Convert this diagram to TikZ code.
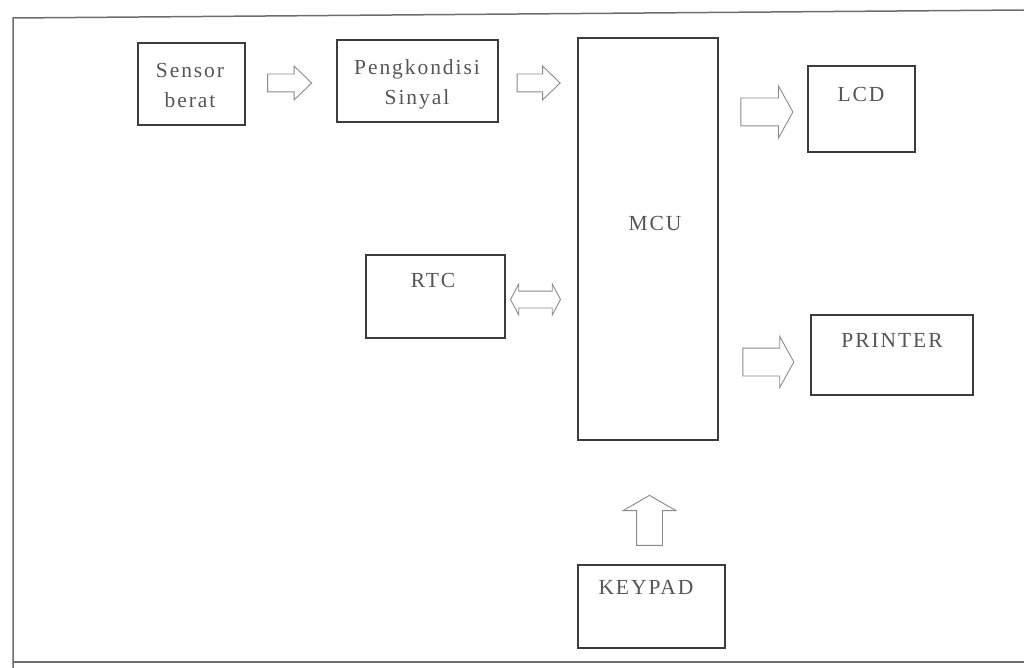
\documentclass[tikz,border=0pt]{standalone}
\usepackage{fontspec}
\setmainfont{Liberation Serif}
\newfontfamily\scanfont[LetterSpace=9]{Liberation Serif}
\usetikzlibrary{shapes.arrows,calc}
\definecolor{boxline}{HTML}{3C3C3C}
\definecolor{arrline}{HTML}{8A8A8A}
\definecolor{txt}{HTML}{555555}
\definecolor{frameline}{HTML}{6E6E6E}
\tikzset{
  box/.style={draw=boxline, line width=1.8pt, inner sep=0pt},
  lab/.style={text=txt, font=\scanfont\fontsize{21.5}{30}\selectfont, align=center, inner sep=0pt},
  blockarr/.style={single arrow, draw=arrline, line width=0.9pt, inner xsep=0pt},
  dblarr/.style={double arrow, draw=arrline, line width=0.9pt, inner xsep=0pt},
}
\begin{document}
\begin{tikzpicture}[x=1pt,y=-1pt]
\useasboundingbox (0,0) rectangle (1024,668);
% outer frame
\draw[frameline, line width=1.5pt] (13,668) -- (13,18) -- (1024,10);
\draw[frameline, line width=1.5pt] (13,662) -- (1024,662);

% boxes
\node[box, minimum width=107pt, minimum height=82pt] (sensor) at (191.5,84) {};
\node[box, minimum width=161pt, minimum height=82pt] (peng) at (417.5,81) {};
\node[box, minimum width=140pt, minimum height=402pt] (mcu) at (648,239) {};
\node[box, minimum width=107pt, minimum height=86pt] (lcd) at (861.5,109) {};
\node[box, minimum width=139pt, minimum height=83pt] (rtc) at (435.5,296.5) {};
\node[box, minimum width=162pt, minimum height=80pt] (printer) at (892,355) {};
\node[box, minimum width=147pt, minimum height=83pt] (keypad) at (651.5,606.5) {};

% labels
\node[lab] (sensort) at (190,85) {Sensor\\berat};
\node[lab] (pengt) at (417,84) {Pengkondisi\\Sinyal};
\node[lab] (mcut) at (655,223) {MCU};
\node[lab] (lcdt) at (861,94) {LCD};
\node[lab] (rtct) at (433,280) {RTC};
\node[lab] (printert) at (892,340) {PRINTER};
\node[lab] (keypadt) at (646,587) {KEYPAD};

% block arrows
\node[blockarr, minimum height=44pt, minimum width=33pt, inner ysep=8.5pt,
      single arrow head extend=8pt, single arrow tip angle=88] (a1)
  at ($(sensor.east)!0.5!(sensor.east -| peng.west)+(-6,-1)$) {};
\node[blockarr, minimum height=43pt, minimum width=33pt, inner ysep=8.5pt,
      single arrow head extend=8pt, single arrow tip angle=88] (a2)
  at ($(peng.east)!0.5!(peng.east -| mcu.west)+(-4,2)$) {};
\node[blockarr, minimum height=52pt, minimum width=51pt, inner ysep=13.5pt,
      single arrow head extend=12pt, single arrow tip angle=122] (a3)
  at ($(lcd.west -| mcu.east)!0.5!(lcd.west)+(0,3)$) {};
\node[dblarr, minimum height=50pt, minimum width=30pt, inner ysep=8pt,
      double arrow head extend=7pt, double arrow tip angle=124] (a4)
  at ($(rtc.east)!0.5!(rtc.east -| mcu.west)+(-6,3)$) {};
\node[blockarr, minimum height=51pt, minimum width=50pt, inner ysep=13.5pt,
      single arrow head extend=11.5pt, single arrow tip angle=122] (a5)
  at ($(printer.west -| mcu.east)!0.5!(printer.west)+(0,7)$) {};
\node[single arrow, draw=arrline, line width=0.9pt, inner ysep=0pt, inner xsep=12.5pt,
      minimum height=50pt, minimum width=52pt,
      single arrow head extend=13.5pt, single arrow tip angle=120,
      shape border rotate=90] (a6)
  at ($(keypad.north)+(-2,-40)$) {};
\end{tikzpicture}
\end{document}
